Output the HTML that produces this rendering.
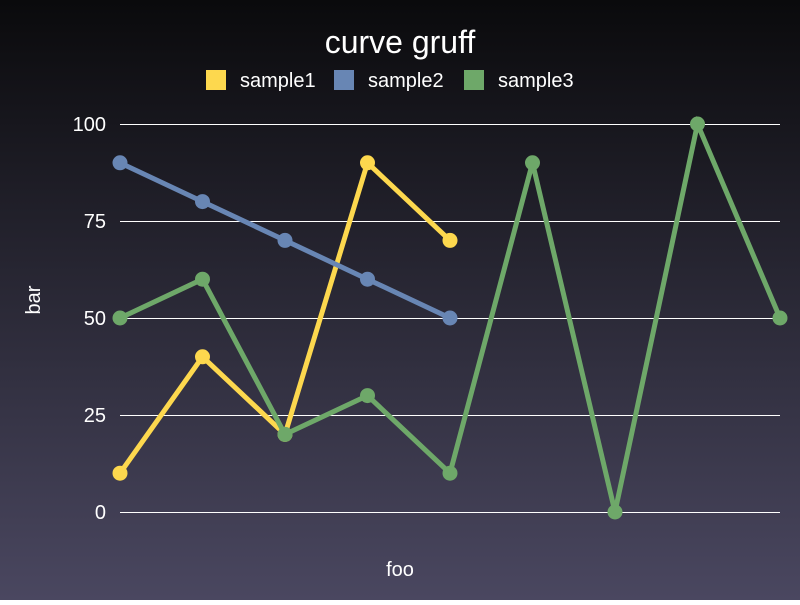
<!DOCTYPE html>
<html><head><meta charset="utf-8"><style>
html,body{margin:0;padding:0;}
body{width:800px;height:600px;overflow:hidden;font-family:"Liberation Sans",sans-serif;}
</style></head><body>
<svg id="chart" width="800" height="600" xmlns="http://www.w3.org/2000/svg">
<defs><linearGradient id="bg" x1="0" y1="0" x2="0" y2="1"><stop offset="0" stop-color="#0a0a0c"/><stop offset="1" stop-color="#4a4760"/></linearGradient></defs>
<rect width="800" height="600" fill="url(#bg)"/>
<text x="400" y="53" fill="#fff" font-size="32" text-anchor="middle">curve gruff</text>
<g id="legend"></g>
<g id="grid"></g>
<g id="series"></g>
<text x="400" y="576" fill="#fff" font-size="20" text-anchor="middle">foo</text>
<text x="40" y="300" fill="#fff" font-size="20" text-anchor="middle" transform="rotate(-90 40 300)">bar</text>
</svg>
<script>
const seriesNames = ["sample1","sample2","sample3"];
const seriesColors = ["#fdd84e","#6886b4","#6ea869"];
const sample1 = [10,40,20,90,70];
const sample2 = [90,80,70,60,50];
const sample3 = [50,60,20,30,10,90,0,100,50];
const yTicks = [0,25,50,75,100];
const NS="http://www.w3.org/2000/svg";
const x0=120,x1=780,nPts=9,y0=512,y1=124;
const xs=i=>x0+i*(x1-x0)/(nPts-1);
const ys=v=>y0-(v/100)*(y0-y1);
function mk(t,a,p){const e=document.createElementNS(NS,t);for(const k in a)e.setAttribute(k,a[k]);p.appendChild(e);return e;}
const grid=document.getElementById('grid');
yTicks.forEach(v=>{
  const l=mk('line',{x1:x0,x2:x1,y1:ys(v)+0.5,y2:ys(v)+0.5,stroke:'#fff','stroke-width':1,'shape-rendering':'crispEdges'},grid);
  
  
  const t=mk('text',{x:106,y:ys(v)+7,fill:'#fff','font-size':20,'text-anchor':'end'},grid);
  t.textContent=v;
  
  
});
const leg=document.getElementById('legend');
const legX=[206,334,464];
seriesNames.forEach((n,i)=>{
  const r=mk('rect',{x:legX[i],y:70,width:20,height:20,fill:seriesColors[i]},leg);
  
  
  const t=mk('text',{x:legX[i]+34,y:87,fill:'#fff','font-size':20},leg);
  t.textContent=n;
  
  
});
const ser=document.getElementById('series');
[sample1,sample2,sample3].forEach((d,si)=>{
  const g=mk('g',{},ser);
  
  
  const pl=mk('polyline',{points:d.map((v,i)=>xs(i)+','+ys(v)).join(' '),fill:'none',stroke:seriesColors[si],'stroke-width':5,'stroke-linejoin':'miter'},g);
  
  
  d.forEach((v,i)=>{
    const c=mk('circle',{cx:xs(i),cy:ys(v),r:7.5,fill:seriesColors[si]},g);
    
    
  });
});
</script>
</body></html>
